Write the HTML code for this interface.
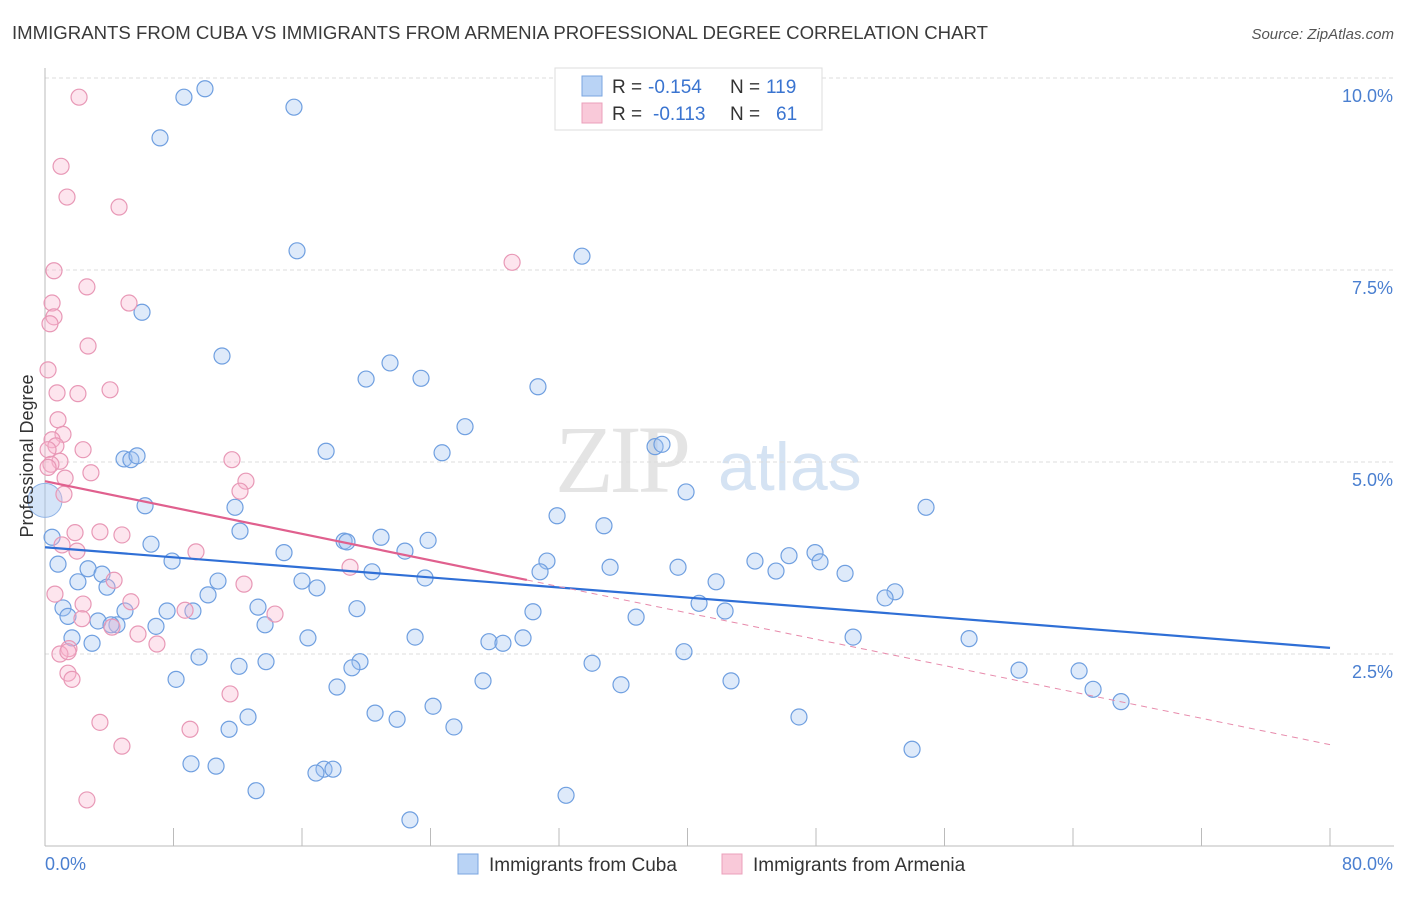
<!DOCTYPE html>
<html><head><meta charset="utf-8"><style>
body{margin:0;background:#fff;font-family:"Liberation Sans",sans-serif}
</style></head><body>
<svg id="chart" width="1406" height="892" xmlns="http://www.w3.org/2000/svg" style="font-family:'Liberation Sans',sans-serif">
<text x="12" y="39" font-size="18.6" fill="#3a3a3a">IMMIGRANTS FROM CUBA VS IMMIGRANTS FROM ARMENIA PROFESSIONAL DEGREE CORRELATION CHART</text>
<text x="1394" y="39" font-size="15" fill="#555" font-style="italic" text-anchor="end">Source: ZipAtlas.com</text>
<g><text x="555" y="492" font-size="96" fill="#e4e4e4" font-family="Liberation Serif" letter-spacing="-4">ZIP</text><text x="718" y="490" font-size="68" fill="#d5e3f3">atlas</text></g>
<g id="grid"></g>
<g id="axes"></g>
<g id="pts"></g>
<g id="lines"></g>
<text transform="translate(33,456) rotate(-90)" font-size="18" fill="#333" text-anchor="middle">Professional Degree</text>
<text x="45" y="870" font-size="18" fill="#4a7fd0">0.0%</text>
<text x="1393" y="870" font-size="18" fill="#4a7fd0" text-anchor="end">80.0%</text>
<g font-size="19">
<rect x="555" y="68" width="267" height="62" fill="#fff" stroke="#ddd"/>
<rect x="582" y="76" width="20" height="20" fill="#b9d3f5" stroke="#7aa6e0"/>
<rect x="582" y="103" width="20" height="20" fill="#f9c9d9" stroke="#eba0bb"/>
<text x="612" y="93" fill="#333">R =</text><text x="648" y="93" fill="#3a74d0">-0.154</text><text x="730" y="93" fill="#333">N =</text><text x="766" y="93" fill="#3a74d0">119</text>
<text x="612" y="120" fill="#333">R =</text><text x="653" y="120" fill="#3a74d0">-0.113</text><text x="730" y="120" fill="#333">N =</text><text x="776" y="120" fill="#3a74d0">61</text>
</g>
<g>
<rect x="458" y="854" width="20" height="20" fill="#b9d3f5" stroke="#7aa6e0"/>
<text x="489" y="871" font-size="19" fill="#333">Immigrants from Cuba</text>
<rect x="722" y="854" width="20" height="20" fill="#f9c9d9" stroke="#eba0bb"/>
<text x="753" y="871" font-size="19" fill="#333">Immigrants from Armenia</text>
</g>
</svg>
<script>
const yTicks=[2.5,5,7.5,10];
const yTickLabels=["2.5%","5.0%","7.5%","10.0%"];
const xTicks=[0,8,16,24,32,40,48,56,64,72,80];
const cubaX=[8.65,9.96,15.5,7.16,15.69,33.43,6.04,11.02,21.48,19.99,23.41,30.69,26.15,17.5,24.72,37.98,38.41,4.92,5.35,5.73,39.91,54.85,6.23,11.83,31.88,34.8,0.44,12.14,6.6,18.62,18.8,20.92,23.85,22.41,14.88,31.25,7.91,0.81,2.68,44.2,46.32,47.94,48.25,39.41,35.18,30.82,45.51,49.81,20.36,3.55,2.05,10.77,16,23.66,41.78,16.93,3.86,10.15,52.92,52.3,1.12,4.98,7.6,9.21,13.26,19.42,40.72,42.34,30.38,1.43,3.3,4.48,4.11,6.91,13.7,36.8,1.68,16.37,23.04,27.64,28.51,29.76,50.31,57.53,2.93,9.59,13.76,12.08,19.61,19.11,34.06,39.78,60.64,64.38,8.16,27.27,42.71,18.18,35.86,65.25,66.99,24.16,20.55,21.92,12.64,46.94,11.46,25.46,53.98,9.09,10.65,17.37,17.93,16.87,13.14,32.44,22.72];
const cubaY=[9.75,9.86,9.62,9.22,7.75,7.68,6.95,6.38,6.29,6.08,6.09,5.98,5.46,5.14,5.12,5.2,5.23,5.04,5.03,5.08,4.61,4.41,4.43,4.41,4.3,4.17,4.02,4.1,3.93,3.97,3.96,4.02,3.98,3.84,3.82,3.71,3.71,3.67,3.61,3.71,3.78,3.82,3.7,3.63,3.63,3.57,3.58,3.55,3.57,3.54,3.44,3.45,3.45,3.49,3.44,3.36,3.37,3.27,3.31,3.23,3.1,3.06,3.06,3.06,3.11,3.09,3.16,3.06,3.05,2.99,2.93,2.88,2.88,2.86,2.88,2.98,2.71,2.71,2.72,2.66,2.64,2.71,2.72,2.7,2.64,2.46,2.4,2.34,2.4,2.32,2.38,2.53,2.29,2.28,2.17,2.15,2.15,2.07,2.1,2.04,1.88,1.82,1.73,1.65,1.68,1.68,1.52,1.55,1.26,1.07,1.04,1,1,0.95,0.72,0.66,0.34];
const armX=[2.12,1,1.37,4.61,29.08,0.56,2.61,0.44,5.23,0.56,0.31,2.68,0.19,0.75,4.05,2.05,0.81,1.12,0.44,0.68,2.37,0.19,11.64,0.93,0.37,2.86,1.25,12.51,1.18,12.14,3.42,4.79,1.87,1.06,1.99,9.4,18.99,4.3,12.39,0.62,2.37,5.35,8.72,14.32,2.3,4.17,5.79,6.97,1.49,0.93,1.43,1.43,1.68,11.52,3.42,9.03,4.79,2.61,0.19];
const armY=[9.75,8.85,8.45,8.32,7.6,7.49,7.28,7.07,7.07,6.89,6.8,6.51,6.2,5.9,5.94,5.89,5.55,5.36,5.29,5.21,5.16,5.16,5.03,5.01,4.97,4.86,4.79,4.75,4.58,4.62,4.09,4.05,4.08,3.92,3.84,3.83,3.63,3.46,3.41,3.28,3.15,3.18,3.07,3.02,2.96,2.85,2.76,2.63,2.57,2.5,2.53,2.25,2.17,1.98,1.61,1.52,1.3,0.6,4.93];
const cubaTrend=[3.89,2.58];
const armTrend=[4.75,1.32];
const armSolidEnd=30;
const NS="http://www.w3.org/2000/svg";
const X=v=>45+v/80*1285, Y=v=>846-v*76.8;
function mk(t,a,p){const e=document.createElementNS(NS,t);for(const k in a)e.setAttribute(k,a[k]);document.getElementById(p).appendChild(e);return e;}
yTicks.forEach((t,i)=>{
 const l=mk('line',{x1:45,x2:1394,y1:Y(t),y2:Y(t),stroke:'#ddd','stroke-dasharray':'4,3'},'grid');
 
 
 const tx=mk('text',{x:1393,y:Y(t)+24,'font-size':18,fill:'#4a7fd0','text-anchor':'end'},'grid');
 tx.textContent=yTickLabels[i];
 
 
});
const ax=mk('line',{x1:45,x2:45,y1:68,y2:846,stroke:'#bbb'},'axes');


const bx=mk('line',{x1:45,x2:1394,y1:846,y2:846,stroke:'#bbb'},'axes');


xTicks.forEach(t=>{
 const l=mk('line',{x1:X(t),x2:X(t),y1:828,y2:846,stroke:'#bbb'},'axes');
 
 
});
const big=mk('circle',{cx:X(0),cy:Y(4.5),r:17,fill:'rgba(160,195,240,0.45)',stroke:'#8fb3e6','stroke-width':1},'pts');


cubaX.forEach((v,i)=>{
 const c=mk('circle',{cx:X(v),cy:Y(cubaY[i]),r:8,fill:'rgba(160,195,240,0.35)',stroke:'#6f9fe0','stroke-width':1.2},'pts');
 
 
});
armX.forEach((v,i)=>{
 const c=mk('circle',{cx:X(v),cy:Y(armY[i]),r:8,fill:'rgba(248,180,205,0.35)',stroke:'#e898b6','stroke-width':1.2},'pts');
 
 
});
const bl=mk('line',{x1:X(0),y1:Y(cubaTrend[0]),x2:X(80),y2:Y(cubaTrend[1]),stroke:'#2f6fd6','stroke-width':2.2},'lines');


const am=v=>armTrend[0]+(armTrend[1]-armTrend[0])*v/80;
const pl=mk('line',{x1:X(0),y1:Y(am(0)),x2:X(armSolidEnd),y2:Y(am(armSolidEnd)),stroke:'#e0608e','stroke-width':2.2},'lines');


const pd=mk('line',{x1:X(armSolidEnd),y1:Y(am(armSolidEnd)),x2:X(80),y2:Y(am(80)),stroke:'#e78aab','stroke-width':1,'stroke-dasharray':'6,5'},'lines');


</script>
</body></html>
